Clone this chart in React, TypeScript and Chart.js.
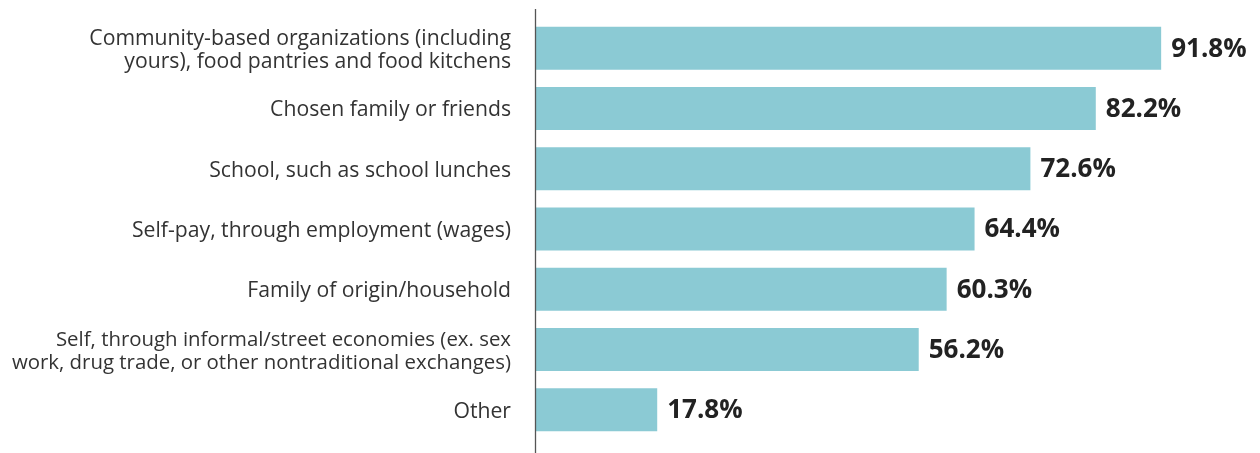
import React, { useEffect, useRef } from "react";
import { Chart, registerables } from "chart.js";

Chart.register(...registerables);

const categories: (string | string[])[] = [
  ["Community-based organizations (including", "yours), food pantries and food kitchens"],
  "Chosen family or friends",
  "School, such as school lunches",
  "Self-pay, through employment (wages)",
  "Family of origin/household",
  ["Self, through informal/street economies (ex. sex", "work, drug trade, or other nontraditional exchanges)"],
  "Other",
];
const values: number[] = [91.8, 82.2, 72.6, 64.4, 60.3, 56.2, 17.8];
const valueLabels: string[] = values.map((v) => v.toFixed(1) + "%");

const BAR_COLOR = "#8BCAD4";
const FONT = "'Open Sans', sans-serif";

export default function App() {
  const ref = useRef<HTMLCanvasElement | null>(null);
  useEffect(() => {
    document.body.style.margin = "0";
    const canvas = ref.current;
    if (!canvas) return;
    const overlay = {
      id: "overlay",
      afterDatasetsDraw(chart: any) {
        const ctx = chart.ctx;
        const meta = chart.getDatasetMeta(0);
        ctx.save();
        ctx.font = `bold 26px ${FONT}`;
        ctx.fillStyle = "#222222";
        ctx.textAlign = "left";
        ctx.textBaseline = "middle";
        meta.data.forEach((bar: any, i: number) => {
          ctx.fillText(valueLabels[i], bar.x + 10, bar.y + 1);
        });
        const x = chart.chartArea.left - 0.5;
        ctx.strokeStyle = "#555555";
        ctx.lineWidth = 1.3;
        ctx.beginPath();
        ctx.moveTo(x, 9);
        ctx.lineTo(x, chart.height);
        ctx.stroke();
        ctx.restore();
      },
    };
    const chart = new Chart(canvas, {
      type: "bar",
      data: {
        labels: categories,
        datasets: [
          {
            data: values,
            backgroundColor: BAR_COLOR,
            borderWidth: 0,
            categoryPercentage: 1,
            barPercentage: 0.713,
          },
        ],
      },
      options: {
        indexAxis: "y",
        animation: false,
        responsive: false,
        maintainAspectRatio: false,
        layout: { padding: { left: 0, right: 43, top: 18, bottom: 13 } },
        plugins: { legend: { display: false }, tooltip: { enabled: false } },
        scales: {
          x: { display: false, min: 0, max: 100 },
          y: {
            grid: { display: false, drawTicks: false },
            border: { display: false },
            ticks: {
              padding: 25,
              labelOffset: 2,
              color: "#333333",
              font: (c: any) => ({
                family: FONT,
                size: c.index === 5 ? 20.4 : 21.2,
                lineHeight: 1.1,
              }),
            },
            afterFit(scale: any) {
              scale.width = 536;
              scale.paddingTop = 0;
              scale.paddingBottom = 0;
            },
          },
        },
      },
      plugins: [overlay],
    });
    return () => chart.destroy();
  }, []);
  return (
    <div style={{ width: 1260, height: 453 }}>
      <canvas ref={ref} width={1260} height={453} style={{ display: "block" }} />
    </div>
  );
}
